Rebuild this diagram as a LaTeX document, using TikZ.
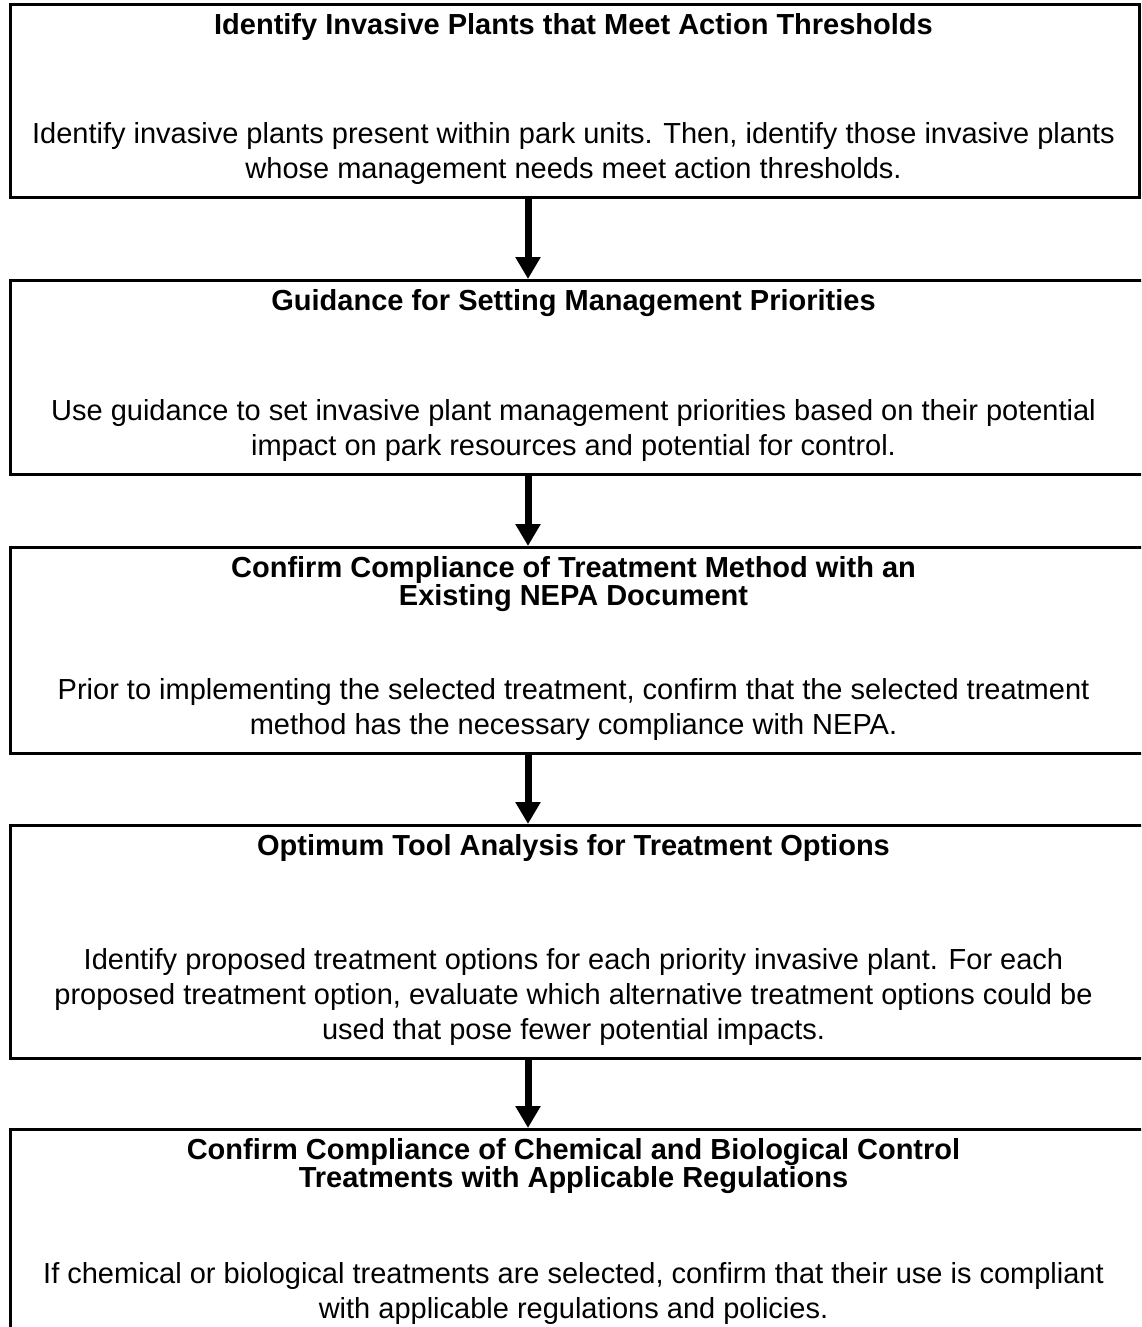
\documentclass[tikz,border=0pt]{standalone}
\usepackage{fontspec}
\setmainfont{Liberation Sans}
\usetikzlibrary{positioning,arrows.meta}

\tikzset{
  stepframe/.style={draw, line width=2.6pt, anchor=north west, inner sep=0pt},
  headtext/.style={font=\fontsize{29}{28}\selectfont\bfseries, align=center, anchor=north, inner sep=0pt},
  bodytext/.style={font=\fontsize{29}{35}\selectfont, align=center, anchor=south, inner sep=0pt},
  flowarrow/.style={line width=7pt, -{Triangle[width=24pt,length=22pt]}}
}

\begin{document}
\begin{tikzpicture}[x=1pt,y=1pt]
\useasboundingbox (0,0) rectangle (1141,-1327);
\clip (0,0) rectangle (1141,-1327);

\coordinate (mid) at (573.5,0);
\coordinate (axis) at (528,0);

% === step boxes ===
\node[stepframe, minimum width=1129pt, minimum height=193pt] (b1) at (9,-3) {};
\node[stepframe, minimum width=1200pt, minimum height=194pt] (b2) at (9,-279) {};
\node[stepframe, minimum width=1200pt, minimum height=206pt] (b3) at (9,-546) {};
\node[stepframe, minimum width=1200pt, minimum height=233pt] (b4) at (9,-824) {};
\node[stepframe, minimum width=1200pt, minimum height=260pt] (b5) at (9,-1128) {};

% === titles ===
\node[headtext] (t1) at ([yshift=-10pt]b1.north -| mid) {Identify Invasive Plants that Meet Action Thresholds};
\node[headtext] (t2) at ([yshift=-10pt]b2.north -| mid) {Guidance for Setting Management Priorities};
\node[headtext] (t3) at ([yshift=-10pt]b3.north -| mid) {Confirm Compliance of Treatment Method with an\\Existing NEPA Document};
\node[headtext] (t4) at ([yshift=-10pt]b4.north -| mid) {Optimum Tool Analysis for Treatment Options};
\node[headtext] (t5) at ([yshift=-10pt]b5.north -| mid) {Confirm Compliance of Chemical and Biological Control\\Treatments with Applicable Regulations};

% === descriptions ===
\node[bodytext] (d1) at ([yshift=14pt]b1.south -| mid) {Identify invasive plants present within park units. Then, identify those invasive plants\\whose management needs meet action thresholds.};
\node[bodytext] (d2) at ([yshift=14pt]b2.south -| mid) {Use guidance to set invasive plant management priorities based on their potential\\impact on park resources and potential for control.};
\node[bodytext] (d3) at ([yshift=14pt]b3.south -| mid) {Prior to implementing the selected treatment, confirm that the selected treatment\\method has the necessary compliance with NEPA.};
\node[bodytext] (d4) at ([yshift=14pt]b4.south -| mid) {Identify proposed treatment options for each priority invasive plant. For each\\proposed treatment option, evaluate which alternative treatment options could be\\used that pose fewer potential impacts.};
\node[bodytext, anchor=north] (d5) at ([yshift=-134pt]b5.north -| mid) {If chemical or biological treatments are selected, confirm that their use is compliant\\with applicable regulations and policies.};

% === arrows ===
\draw[flowarrow] (b1.south -| axis) -- (b2.north -| axis);
\draw[flowarrow] (b2.south -| axis) -- (b3.north -| axis);
\draw[flowarrow] (b3.south -| axis) -- (b4.north -| axis);
\draw[flowarrow] (b4.south -| axis) -- (b5.north -| axis);

\end{tikzpicture}
\end{document}
